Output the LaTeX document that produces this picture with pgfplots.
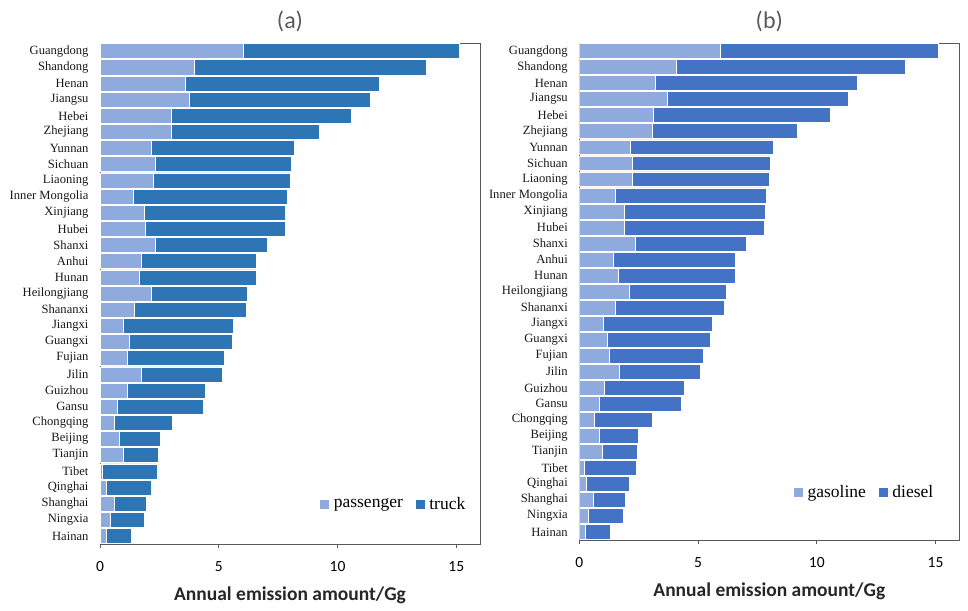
\documentclass[border=0pt]{standalone}
\usepackage{pgfplots}
\pgfplotsset{compat=1.18}
\usepackage{pgfplotstable}
\usepackage{fontspec}
\setmainfont{Liberation Serif}
\newfontfamily\calfont{Carlito}
\definecolor{pass}{HTML}{8FAADC}
\definecolor{truck}{HTML}{2E75B6}
\definecolor{diesel}{HTML}{4472C4}
\definecolor{axgray}{HTML}{595959}

\pgfplotstableread{
idx p t
0 6.03 9.11
1 3.96 9.79
2 3.58 8.18
3 3.74 7.62
4 2.99 7.60
5 2.99 6.25
6 2.15 6.02
7 2.32 5.74
8 2.23 5.79
9 1.39 6.50
10 1.85 5.97
11 1.92 5.87
12 2.32 4.73
13 1.73 4.83
14 1.64 4.92
15 2.15 4.06
16 1.46 4.68
17 0.97 4.62
18 1.22 4.34
19 1.15 4.10
20 1.73 3.41
21 1.15 3.30
22 0.72 3.61
23 0.62 2.44
24 0.80 1.73
25 0.97 1.47
26 0.11 2.29
27 0.25 1.90
28 0.62 1.32
29 0.42 1.45
30 0.25 1.08
}\dataA

\pgfplotstableread{
idx g d
0 5.94 9.16
1 4.08 9.64
2 3.19 8.53
3 3.71 7.63
4 3.11 7.44
5 3.07 6.12
6 2.14 6.01
7 2.25 5.77
8 2.22 5.76
9 1.51 6.37
10 1.89 5.92
11 1.91 5.86
12 2.36 4.65
13 1.42 5.14
14 1.62 4.94
15 2.10 4.08
16 1.51 4.60
17 1.00 4.59
18 1.17 4.33
19 1.24 3.99
20 1.67 3.42
21 1.04 3.38
22 0.83 3.48
23 0.63 2.44
24 0.83 1.67
25 0.97 1.45
26 0.20 2.18
27 0.28 1.84
28 0.59 1.34
29 0.37 1.49
30 0.25 1.07
}\dataB

\pgfplotsset{
  panel/.style={
    xbar stacked,
    scale only axis,
    width=380pt,
    bar width=0.93,
    xmin=0, xmax=16,
    ymin=-0.5, ymax=30.5,
    y dir=reverse,
    xtick={0,5,10,15},
    ytick={0,...,30},
    yticklabels={Guangdong,Shandong,Henan,Jiangsu,Hebei,Zhejiang,Yunnan,Sichuan,Liaoning,Inner Mongolia,Xinjiang,Hubei,Shanxi,Anhui,Hunan,Heilongjiang,Shananxi,Jiangxi,Guangxi,Fujian,Jilin,Guizhou,Gansu,Chongqing,Beijing,Tianjin,Tibet,Qinghai,Shanghai,Ningxia,Hainan},
    ytick style={draw=none},
    xtick pos=bottom,
    xtick align=outside,
    major tick length=4pt,
    xtick style={axgray, line width=0.8pt},
    axis line style={axgray, line width=0.9pt},
    /pgf/number format/assume math mode=true,
    xticklabel style={font=\calfont\fontsize{15.5}{15.5}\selectfont, text=black, yshift=-10pt},
    yticklabel style={font=\fontsize{12.6}{12.6}\selectfont, text=black!90, xshift=-8pt},
    xlabel={Annual emission amount/Gg},
    xlabel style={font=\calfont\bfseries\fontsize{19.5}{19.5}\selectfont, text=black!85, at={(0.5,0)}, anchor=center, yshift=-51pt},
    title style={font=\calfont\fontsize{24}{24}\selectfont, text=axgray, at={(0.5,1)}, anchor=center, yshift=16pt},
    legend columns=2,
    legend style={draw=none, fill=none, font=\fontsize{17.5}{17.5}\selectfont, /tikz/every even column/.append style={column sep=10pt}},
    legend image code/.code={\fill[##1] (0pt,-5pt) rectangle (10pt,5pt); \path (12pt,0pt);},
  }
}

\begin{document}
\begin{tikzpicture}
\path (0pt,0pt) rectangle (968pt,610pt);
\begin{axis}[panel, at={(100pt,66pt)}, anchor=south west, height=501pt,
  title={(a)},
  legend style={at={(0.975,0.08)}, anchor=east}]
\addplot[fill=pass, draw=white, line width=0.5pt] table[x=p, y=idx] {\dataA};
\addplot[fill=truck, draw=white, line width=0.5pt] table[x=t, y=idx] {\dataA};
\legend{passenger, truck}
\end{axis}
\begin{axis}[panel, at={(579.3pt,70pt)}, anchor=south west, height=497pt,
  title={(b)},
  legend style={at={(0.945,0.097)}, anchor=east}]
\addplot[fill=pass, draw=white, line width=0.5pt] table[x=g, y=idx] {\dataB};
\addplot[fill=diesel, draw=white, line width=0.5pt] table[x=d, y=idx] {\dataB};
\legend{gasoline, diesel}
\end{axis}
\end{tikzpicture}
\end{document}
